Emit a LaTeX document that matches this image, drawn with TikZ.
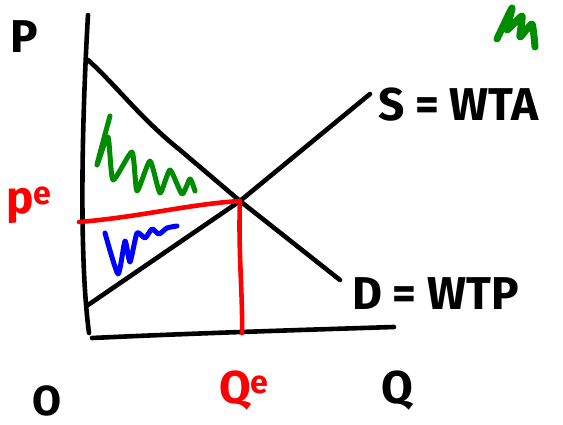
\documentclass[tikz,border=0pt]{standalone}
\usepackage{fontspec}
\setmainfont{Fira Sans}
\definecolor{penred}{RGB}{255,0,0}
\definecolor{pengreen}{RGB}{0,140,0}
\definecolor{penblue}{RGB}{0,0,255}
\tikzset{
  pen/.style={line width=4.6pt, line cap=round, line join=round},
  lbl/.style={inner sep=0pt, outer sep=0pt},
  big/.style={font=\fontsize{46}{46}\selectfont\bfseries},
}
\begin{document}
\begin{tikzpicture}[x=1pt,y=-1pt]
\path[use as bounding box] (0,0) rectangle (563,425);
% key points
\coordinate (axtop) at (88,15);
\coordinate (origin) at (89,333);
\coordinate (axleft) at (92,338);
\coordinate (axright) at (394,327);
\coordinate (dtop) at (88,60);
\coordinate (dend) at (340,280);
\coordinate (stop) at (370,94);
\coordinate (sbot) at (88,305);
\coordinate (eq) at (240,201);
\coordinate (pe) at (79,222);
\coordinate (qe) at (242,333);
% axes
\draw[pen] (axtop) .. controls (83,100) and (78,250) .. (origin);
\draw[pen] (axleft) .. controls (200,333) and (300,330) .. (axright);
% demand and supply
\draw[pen] (dtop) .. controls (115,84) and (140,118) .. (180,150) -- (eq) -- (dend);
\draw[pen] (sbot) -- (eq) -- (stop);
% equilibrium lines
\draw[pen, penred] (pe) .. controls (140,217) and (190,204) .. (eq);
\draw[pen, penred] (eq) .. controls (238,250) and (243,300) .. (qe);
% surplus scribbles
\draw[pen, pengreen, line width=5pt] plot[smooth, tension=0.35] coordinates {(110,116) (97,165) (108,137) (113,180) (132,152) (137,191) (150,161) (160,193) (170,170) (182,194) (190,179) (195,191)};
\draw[pen, penblue, line width=5pt] plot[smooth, tension=0.35] coordinates {(105,233) (118,274) (125,241) (130,262) (137,233) (145,238) (152,229) (159,234) (167,228) (177,226)};
\draw[line width=7pt, line cap=round, line join=round, pengreen] plot[smooth, tension=0.3] coordinates {(497,39) (512,8) (507,30) (522,16) (520,37) (532,24) (535,47)};
% labels
\node[lbl, big, anchor=center] (lp) at (24,37) {P};
\node[lbl, big, anchor=base west, text=penred] (lpe) at (6,214) {p\textsuperscript{e}};
\node[lbl, big, anchor=base west, text=penred] (lqe) at (219,403) {Q\textsuperscript{e}};
\node[lbl, big, anchor=base west] (lq) at (381,403) {Q};
\node[lbl, font=\fontsize{42}{42}\selectfont\bfseries, anchor=base] (lo) at (47,415) {O};
\node[lbl, big, anchor=base west] (ls) at (378,121) {S = WTA};
\node[lbl, big, anchor=base west] (ld) at (352,309) {D = WTP};
\end{tikzpicture}
\end{document}
